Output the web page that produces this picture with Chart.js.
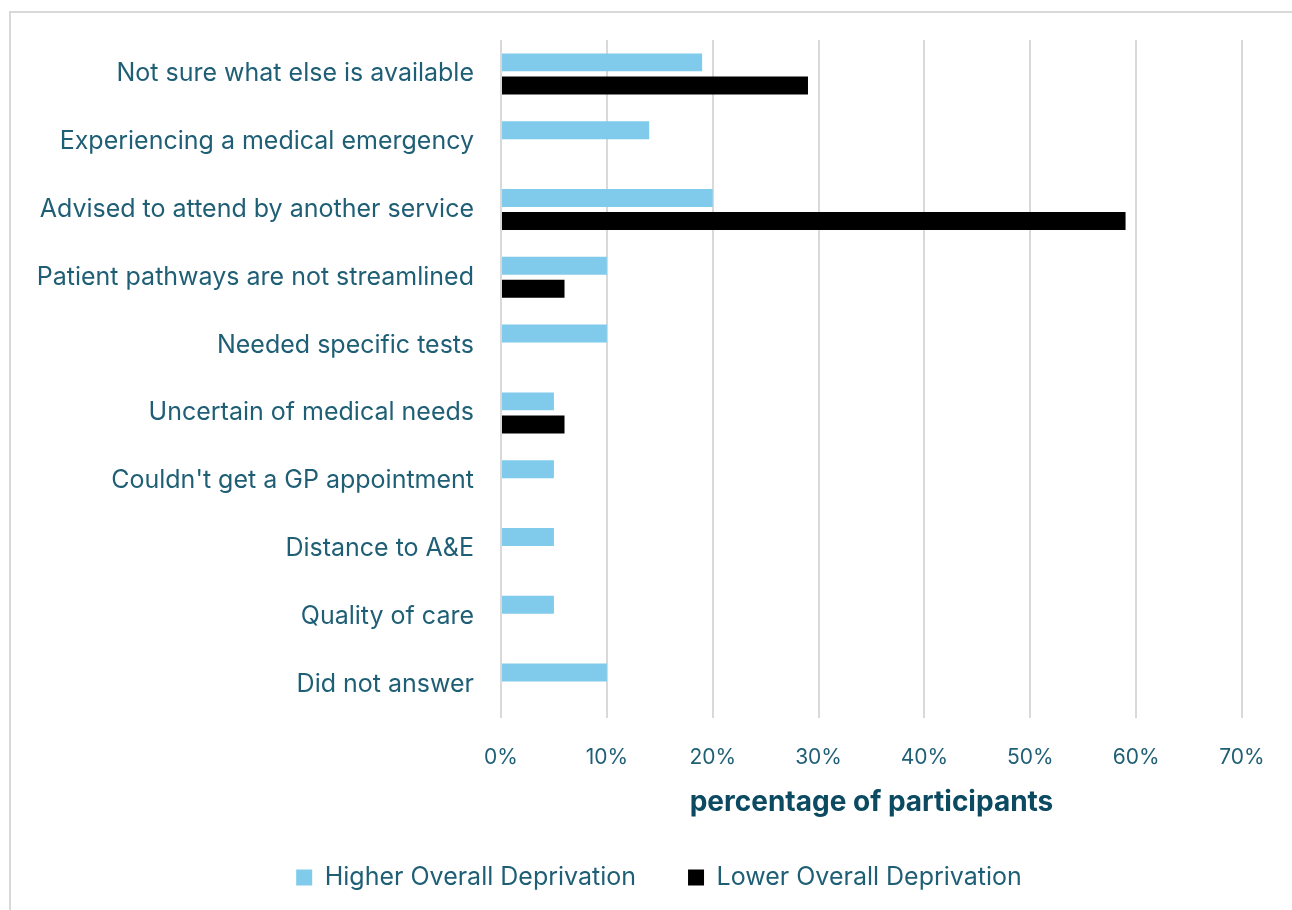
<!DOCTYPE html>
<html>
<head>
<meta charset="utf-8">
<script src="https://cdn.jsdelivr.net/npm/chart.js@4"></script>
<style>
  html, body { margin: 0; padding: 0; background: #ffffff; }
  #wrap { position: relative; width: 1292px; height: 910px; overflow: hidden; }
  #frame { position: absolute; left: 9px; top: 11px; width: 1400px; height: 1000px; border: 2px solid #d9d9d9; }
  #holder { position: absolute; left: 0; top: 0; width: 1292px; height: 910px; }
</style>
</head>
<body>
<div id="wrap">
  <div id="frame"></div>
  <div id="holder"><canvas id="BarChart"></canvas></div>
</div>
<script>
// Reasons given for attending A&E, by deprivation group (percent of participants)
const reasons = [
  "Not sure what else is available",
  "Experiencing a medical emergency",
  "Advised to attend by another service",
  "Patient pathways are not streamlined",
  "Needed specific tests",
  "Uncertain of medical needs",
  "Couldn't get a GP appointment",
  "Distance to A&E",
  "Quality of care",
  "Did not answer"
];
const higherDeprivation = [19, 14, 20, 10, 10, 5, 5, 5, 5, 10];
const lowerDeprivation = [29, null, 59, 6, null, 6, null, null, null, null];
const xTicks = [0, 10, 20, 30, 40, 50, 60, 70];

const textColour = "#1f5f75";
const fontName = "Inter, 'Open Sans', sans-serif";

// Nudge the legend right so it centres under the whole figure, not the padded area
const legendShift = {
    id: 'legendShift',
    afterLayout: function(chart) {
        chart.legend.left += 38;
        chart.legend.right += 38;
    }
};

document.addEventListener("DOMContentLoaded", function() {
    var ctx = document.getElementById("BarChart");
    new Chart(ctx, {
        type: 'bar',
        data: {
            labels: reasons,
            datasets: [{
                label: "Higher Overall Deprivation",
                data: higherDeprivation,
                backgroundColor: "#80cbeb",
                categoryPercentage: 0.68,
                barPercentage: 0.78
            },
            {
                label: "Lower Overall Deprivation",
                data: lowerDeprivation,
                backgroundColor: "#000000",
                categoryPercentage: 0.68,
                barPercentage: 0.78
            }]
        },
        plugins: [legendShift],
        options: {
            indexAxis: 'y',
            responsive: true,
            maintainAspectRatio: false,
            animation: false,
            layout: {
                padding: { top: 40, left: 0, right: 50, bottom: 10 }
            },
            scales: {
                x: {
                    min: 0,
                    max: 70,
                    afterBuildTicks: function(axis) {
                        axis.ticks = xTicks.map(v => ({ value: v }));
                    },
                    // fixed height so the title sits just above the legend
                    afterFit: function(axis) { axis.height = 95; },
                    ticks: {
                        color: textColour,
                        font: { family: fontName, size: 21 },
                        padding: 27,
                        callback: v => v + "%"
                    },
                    grid: { color: "#d9d9d9", lineWidth: 2, drawTicks: false },
                    border: { display: false },
                    title: {
                        display: true,
                        text: "percentage of participants",
                        color: "#0b4a61",
                        font: { family: fontName, size: 28, weight: 'bold' },
                        padding: { top: 0, bottom: -6 }
                    }
                },
                y: {
                    afterFit: function(axis) { axis.width = 501; },
                    ticks: {
                        color: textColour,
                        font: { family: fontName, size: 25 },
                        padding: 19
                    },
                    grid: { display: false },
                    border: { display: false }
                }
            },
            plugins: {
                legend: {
                    position: 'bottom',
                    labels: {
                        color: textColour,
                        font: { family: fontName, size: 25 },
                        boxWidth: 16,
                        boxHeight: 16,
                        padding: 52
                    }
                },
                tooltip: { enabled: false }
            }
        }
    });
});
</script>
</body>
</html>
